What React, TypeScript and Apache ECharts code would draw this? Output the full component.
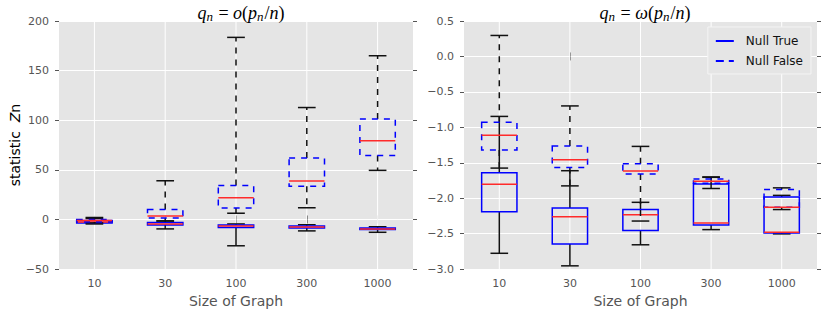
import React, { useEffect, useRef } from "react";
import * as echarts from "echarts";

const categories = ["10", "30", "100", "300", "1000"];

// [min, q1, median, q3, max]
const leftNullTrue = [
  [-4.5, -3.5, -2.5, -1, 1],
  [-9.5, -5.5, -4.5, -3, -1.5],
  [-26.5, -8, -6.5, -5.5, -4.5],
  [-11.5, -8.6, -7.5, -6.6, -5.3],
  [-12.9, -10.2, -9.5, -8.6, -7.3],
];
const leftNullFalse = [
  [-3.5, -2.5, -1, 0, 2],
  [-1.5, 1.5, 3.5, 10, 39],
  [6.3, 11.5, 21.8, 34.2, 183.5],
  [11.8, 33.5, 38.8, 62, 112.8],
  [49.5, 64.4, 79.3, 101.2, 165],
];
const rightNullTrue = [
  [-2.777, -2.192, -1.802, -1.64, -0.846],
  [-2.954, -2.647, -2.262, -2.137, -1.612],
  [-2.657, -2.457, -2.234, -2.16, -2.058],
  [-2.443, -2.378, -2.35, -1.798, -1.7],
  [-2.503, -2.49, -2.48, -1.983, -1.96],
];
const rightNullFalse = [
  [-1.575, -1.32, -1.111, -0.93, 0.296],
  [-1.826, -1.566, -1.459, -1.264, -0.698],
  [-2.322, -1.659, -1.617, -1.515, -1.269],
  [-1.863, -1.79, -1.761, -1.728, -1.705],
  [-2.16, -2.127, -2.127, -1.877, -1.854],
];

const leftYTicks = { min: -50, max: 200, interval: 50 };
const rightYTicks = { min: -3, max: 0.5, interval: 0.5 };

const FONT = "DejaVu Sans";
const TICK_COLOR = "#555555";
const BLUE = "#0000ff";
const RED = "#ff2a2a";
const BLACK = "#111111";

function fmt(v: number, digits: number) {
  return v.toFixed(digits).replace("-", "\u2212");
}

function boxRender(dashed: boolean) {
  return (params: any, api: any) => {
    const i = api.value(0);
    const mn = api.coord([i, api.value(1)]);
    const q1 = api.coord([i, api.value(2)]);
    const md = api.coord([i, api.value(3)]);
    const q3 = api.coord([i, api.value(4)]);
    const mx = api.coord([i, api.value(5)]);
    const band = api.size([1, 0])[0];
    const bw = band * 0.5;
    const cw = bw * 0.5;
    const x = mn[0];
    const dash = dashed ? [6, 6] : null;
    const lw = 1.5;
    const children: any[] = [
      {
        type: "line",
        shape: { x1: x, y1: q1[1], x2: x, y2: mn[1] },
        style: { stroke: BLACK, lineWidth: lw, lineDash: dash },
      },
      {
        type: "line",
        shape: { x1: x, y1: q3[1], x2: x, y2: mx[1] },
        style: { stroke: BLACK, lineWidth: lw, lineDash: dash },
      },
      {
        type: "line",
        shape: { x1: x - cw / 2, y1: mn[1], x2: x + cw / 2, y2: mn[1] },
        style: { stroke: BLACK, lineWidth: lw },
      },
      {
        type: "line",
        shape: { x1: x - cw / 2, y1: mx[1], x2: x + cw / 2, y2: mx[1] },
        style: { stroke: BLACK, lineWidth: lw },
      },
      {
        type: "rect",
        shape: { x: x - bw / 2, y: q3[1], width: bw, height: q1[1] - q3[1] },
        style: { fill: "none", stroke: BLUE, lineWidth: lw, lineDash: dash },
      },
      {
        type: "line",
        shape: { x1: x - bw / 2, y1: md[1], x2: x + bw / 2, y2: md[1] },
        style: { stroke: RED, lineWidth: lw },
      },
    ];
    return { type: "group", children };
  };
}

function gridLineRender(ymin: number, ymax: number) {
  return (params: any, api: any) => {
    const i = api.value(0);
    const a = api.coord([i, ymin]);
    const b = api.coord([i, ymax]);
    return {
      type: "line",
      shape: { x1: a[0], y1: a[1], x2: b[0], y2: b[1] },
      style: { stroke: "#ffffff", lineWidth: 1 },
    };
  };
}

function toData(arr: number[][]) {
  return arr.map((d, i) => [i, ...d]);
}

const SERIF = "Liberation Serif";
const mathRich = {
  i: { fontFamily: SERIF, fontStyle: "italic", fontWeight: "normal", fontSize: 18, color: "#000" },
  n: { fontFamily: SERIF, fontWeight: "normal", fontSize: 18, color: "#000" },
  s: {
    fontFamily: SERIF,
    fontStyle: "italic",
    fontWeight: "normal",
    fontSize: 13,
    color: "#000",
    verticalAlign: "bottom",
    padding: [7, 1, 0, 0],
  },
};

export default function App() {
  const ref = useRef<HTMLDivElement>(null);
  useEffect(() => {
    if (!ref.current) return;
    const chart = echarts.init(ref.current, null, { renderer: "svg" });

    const xAxisBase = (gridIndex: number) => ({
      type: "category",
      gridIndex,
      data: categories,
      boundaryGap: true,
      axisLine: { show: false },
      axisTick: {
        show: true,
        alignWithLabel: true,
        length: 4,
        lineStyle: { color: TICK_COLOR, width: 1 },
      },
      axisLabel: { color: TICK_COLOR, fontSize: 11, fontFamily: FONT, margin: 9 },
      splitLine: { show: false },
      name: "Size of Graph",
      nameLocation: "middle",
      nameGap: 23,
      nameTextStyle: { color: TICK_COLOR, fontSize: 14, fontFamily: FONT },
    });

    const xAxisTop = (gridIndex: number) => ({
      type: "category",
      gridIndex,
      position: "top",
      data: categories,
      boundaryGap: true,
      axisLine: { show: false },
      axisTick: {
        show: true,
        alignWithLabel: true,
        length: 4,
        lineStyle: { color: TICK_COLOR, width: 1 },
      },
      axisLabel: { show: false },
      splitLine: { show: false },
    });

    const yAxisBase = (gridIndex: number, t: any, digits: number, right: boolean) => ({
      type: "value",
      gridIndex,
      position: right ? "right" : "left",
      min: t.min,
      max: t.max,
      interval: t.interval,
      axisLine: { show: false },
      axisTick: { show: true, length: 4, lineStyle: { color: TICK_COLOR, width: 1 } },
      axisLabel: right
        ? { show: false }
        : {
            color: TICK_COLOR,
            fontSize: 11,
            fontFamily: FONT,
            margin: 10,
            formatter: (v: number) => fmt(v, digits),
          },
      splitLine: right ? { show: false } : { show: true, lineStyle: { color: "#ffffff", width: 1 } },
    });

    const leftY: any = yAxisBase(0, leftYTicks, 0, false);
    leftY.name = "{t|statistic  }{z|Z}{t|n}";
    leftY.nameLocation = "middle";
    leftY.nameGap = 35;
    leftY.nameTextStyle = {
      rich: {
        t: { fontFamily: FONT, fontSize: 14, color: "#000" },
        z: { fontFamily: FONT, fontSize: 14, fontStyle: "italic", color: "#000" },
      },
    };

    const idxData = categories.map((c, i) => [i]);

    const option: any = {
      animation: false,
      title: [
        {
          text: "{i|q}{s|n}{n| = }{i|o}{n|(}{i|p}{s|n}{n|/}{i|n}{n|)}",
          left: 236,
          top: -2,
          textAlign: "center",
          textStyle: { fontWeight: "normal", rich: mathRich },
        },
        {
          text: "{i|q}{s|n}{n| = }{i|\u03c9}{n|(}{i|p}{s|n}{n|/}{i|n}{n|)}",
          left: 640,
          top: -2,
          textAlign: "center",
          textStyle: { fontWeight: "normal", rich: mathRich },
        },
      ],
      legend: {
        right: 19,
        top: 27,
        orient: "vertical",
        itemWidth: 18,
        itemHeight: 2,
        itemGap: 8,
        padding: [8, 8, 7, 8],
        backgroundColor: "#e5e5e5",
        borderColor: "#f4f4f4",
        borderWidth: 1,
        borderRadius: 0,
        textStyle: { fontFamily: FONT, fontSize: 12, color: "#111", padding: [0, 0, 0, 7] },
        data: [
          { name: "Null True", icon: "path://M0,0h18v2h-18z" },
          { name: "Null False", icon: "path://M0,0h8v2h-8z M13,0h5v2h-5z" },
        ],
      },
      grid: [
        {
          left: 59,
          right: 417,
          top: 21,
          bottom: 41,
          show: true,
          backgroundColor: "#e5e5e5",
          borderWidth: 0,
        },
        {
          left: 464,
          right: 13,
          top: 21,
          bottom: 41,
          show: true,
          backgroundColor: "#e5e5e5",
          borderWidth: 0,
        },
      ],
      xAxis: [xAxisBase(0), xAxisBase(1), xAxisTop(0), xAxisTop(1)],
      yAxis: [
        leftY,
        yAxisBase(0, leftYTicks, 0, true),
        yAxisBase(1, rightYTicks, 1, false),
        yAxisBase(1, rightYTicks, 1, true),
      ],
      series: [
        {
          type: "custom",
          name: "grid-left",
          xAxisIndex: 0,
          yAxisIndex: 0,
          silent: true,
          renderItem: gridLineRender(leftYTicks.min, leftYTicks.max),
          data: idxData,
          z: 1,
        },
        {
          type: "custom",
          name: "grid-right",
          xAxisIndex: 1,
          yAxisIndex: 2,
          silent: true,
          renderItem: gridLineRender(rightYTicks.min, rightYTicks.max),
          data: idxData,
          z: 1,
        },
        {
          type: "custom",
          name: "Null True",
          xAxisIndex: 0,
          yAxisIndex: 0,
          itemStyle: { color: BLUE },
          renderItem: boxRender(false),
          encode: { x: 0, y: [1, 2, 3, 4, 5] },
          data: toData(leftNullTrue),
          z: 2,
        },
        {
          type: "custom",
          name: "Null False",
          xAxisIndex: 0,
          yAxisIndex: 0,
          itemStyle: { color: BLUE },
          renderItem: boxRender(true),
          encode: { x: 0, y: [1, 2, 3, 4, 5] },
          data: toData(leftNullFalse),
          z: 3,
        },
        {
          type: "custom",
          name: "Null True",
          xAxisIndex: 1,
          yAxisIndex: 2,
          itemStyle: { color: BLUE },
          renderItem: boxRender(false),
          encode: { x: 0, y: [1, 2, 3, 4, 5] },
          data: toData(rightNullTrue),
          z: 2,
        },
        {
          type: "custom",
          name: "Null False",
          xAxisIndex: 1,
          yAxisIndex: 2,
          itemStyle: { color: BLUE },
          renderItem: boxRender(true),
          encode: { x: 0, y: [1, 2, 3, 4, 5] },
          data: toData(rightNullFalse),
          z: 3,
        },
      ],
    };
    chart.setOption(option);
    return () => chart.dispose();
  }, []);
  return (
    <div
      ref={ref}
      style={{ position: "absolute", left: 0, top: 0, width: 830, height: 313 }}
    />
  );
}
